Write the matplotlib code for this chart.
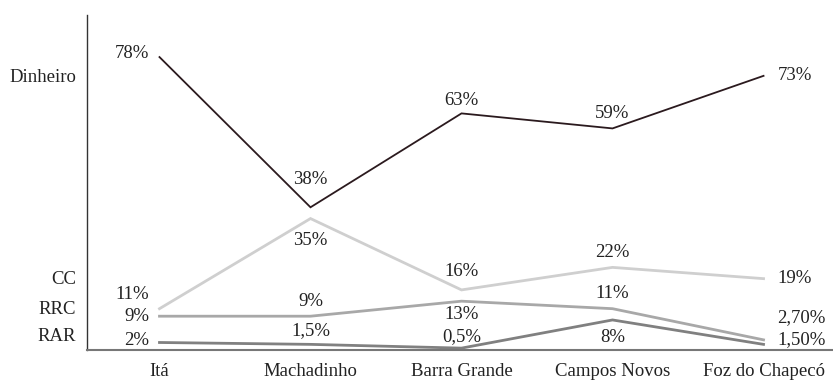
import matplotlib
matplotlib.use("Agg")
import matplotlib.pyplot as plt

categories = ["Itá", "Machadinho", "Barra Grande", "Campos Novos", "Foz do Chapecó"]
dinheiro = [78, 38, 63, 59, 73]
cc = [11, 35, 16, 22, 19]
rrc = [9, 9, 13, 11, 2.7]
rar = [2, 1.5, 0.5, 8, 1.5]
dinheiro_labels = ["78%", "38%", "63%", "59%", "73%"]
cc_labels = ["11%", "35%", "16%", "22%", "19%"]
rrc_labels = ["9%", "9%", "13%", "11%", "2,70%"]
rar_labels = ["2%", "1,5%", "0,5%", "8%", "1,50%"]
series_names = ["Dinheiro", "CC", "RRC", "RAR"]

plt.rcParams['font.family'] = ['Liberation Serif', 'DejaVu Serif']
FS = 13.5

fig = plt.figure(figsize=(8.33, 3.82), dpi=100)
ax = fig.add_axes([87/833, 32/382, 1 - 87/833, (350 - 15)/382])

x = list(range(len(categories)))
series = [
    (dinheiro, dinheiro_labels, "#2b1a1e", 1.3),
    (cc, cc_labels, "#cfcfcf", 2.0),
    (rrc, rrc_labels, "#a8a8a8", 2.0),
    (rar, rar_labels, "#808080", 2.0),
]
for vals, labs, col, lw in series:
    ax.plot(x, vals, color=col, lw=lw, solid_joinstyle='miter')

# label offsets in pixels (dx, dy, ha)
offsets = [
    [(-10, 4, 'right'), (0, 28, 'center'), (0, 13, 'center'), (0, 15, 'center'), (14, 0, 'left')],
    [(-10, 14, 'right'), (0, -22, 'center'), (0, 18, 'center'), (0, 15, 'center'), (14, 0, 'left')],
    [(-10, 0, 'right'), (0, 15, 'center'), (0, -13, 'center'), (0, 15, 'center'), (14, 22, 'left')],
    [(-10, 2, 'right'), (0, 14, 'center'), (0, 12, 'center'), (0, -18, 'center'), (14, 5, 'left')],
]
for (vals, labs, col, lw), offs in zip(series, offsets):
    for xi, v, lab, (dx, dy, ha) in zip(x, vals, labs, offs):
        ax.annotate(lab, (xi, v), xytext=(dx, dy), textcoords='offset pixels',
                    ha=ha, va='center', fontsize=FS, color='#222222')

ax.set_xlim(-0.48, 4.46)
ax.set_ylim(0, 89.2)

name_positions = [73.2, 19.4, 11.2, 4.0]
ax.set_yticks(name_positions)
ax.set_yticklabels(series_names, fontsize=FS, color='#222222')
ax.tick_params(axis='y', length=0, pad=8)

ax.set_xticks(x)
ax.set_xticklabels(categories, fontsize=FS, color='#222222')
ax.tick_params(axis='x', length=0, pad=9)

for s in ['top', 'right']:
    ax.spines[s].set_visible(False)
ax.spines['left'].set_color('#333333')
ax.spines['left'].set_linewidth(1.0)
ax.spines['bottom'].set_color('#777777')
ax.spines['bottom'].set_linewidth(1.5)

fig.savefig("out.png", dpi=100)
